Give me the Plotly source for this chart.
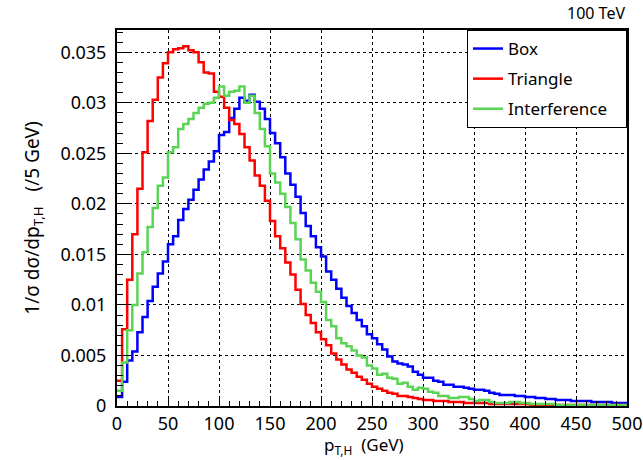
import plotly.graph_objects as go

# Bin edges: 0..500 GeV in 5 GeV bins
bin_width = 5
bin_left = [i * bin_width for i in range(100)]

box = [
    0.0009, 0.0024, 0.0045, 0.0054, 0.0073, 0.0088, 0.0104, 0.0118, 0.0131, 0.0143,
    0.0160, 0.0168, 0.0184, 0.0195, 0.0204, 0.0214, 0.0224, 0.0234, 0.0242, 0.0252,
    0.0268, 0.0271, 0.0285, 0.0294, 0.0305, 0.0302, 0.0308, 0.0301, 0.0294, 0.0284,
    0.0270, 0.0260, 0.0246, 0.0230, 0.0219, 0.0207, 0.0191, 0.0178, 0.0168, 0.0157,
    0.0148, 0.0133, 0.0125, 0.0116, 0.0107, 0.0099, 0.0092, 0.0085, 0.0079, 0.0071,
    0.0067, 0.0061, 0.0056, 0.0049, 0.0044, 0.0042, 0.0041, 0.0039, 0.0034, 0.0031,
    0.0028, 0.0028, 0.0025, 0.0024, 0.0021, 0.0021, 0.0019, 0.0019, 0.0018, 0.0017,
    0.0016, 0.0016, 0.0015, 0.0013, 0.0012, 0.0011, 0.0011, 0.0011, 0.0010, 0.0010,
    0.0009, 0.0009, 0.0008, 0.0008, 0.0007, 0.0007, 0.0006, 0.0006, 0.0006, 0.0005,
    0.0005, 0.0005, 0.0005, 0.0004, 0.0004, 0.0004, 0.0004, 0.0003, 0.0003, 0.0003,
]

triangle = [
    0.0025, 0.0076, 0.0125, 0.0170, 0.0215, 0.0251, 0.0282, 0.0303, 0.0325, 0.0339,
    0.0350, 0.0353, 0.0354, 0.0356, 0.0352, 0.0350, 0.0340, 0.0330, 0.0329, 0.0311,
    0.0306, 0.0295, 0.0283, 0.0279, 0.0269, 0.0256, 0.0243, 0.0228, 0.0218, 0.0203,
    0.0183, 0.0168, 0.0156, 0.0142, 0.0130, 0.0115, 0.0101, 0.0090, 0.0082, 0.0073,
    0.0066, 0.0060, 0.0052, 0.0046, 0.0041, 0.0036, 0.0033, 0.0029, 0.0026, 0.0022,
    0.0019, 0.0017, 0.0015, 0.0013, 0.0012, 0.0010, 0.0010, 0.0009, 0.0008, 0.0007,
    0.0006, 0.0006, 0.0005, 0.0005, 0.0005, 0.0004, 0.0004, 0.0004, 0.0003, 0.0003,
    0.0003, 0.0003, 0.0003, 0.0002, 0.0002, 0.0002, 0.0002, 0.0002, 0.0002, 0.0002,
    0.0002, 0.0001, 0.0001, 0.0001, 0.0001, 0.0001, 0.0001, 0.0001, 0.0001, 0.0001,
    0.0001, 0.0001, 0.0001, 0.0001, 0.0001, 0.0001, 0.0001, 0.0001, 0.0001, 0.0001,
]

interference = [
    0.0015, 0.0043, 0.0075, 0.0100, 0.0131, 0.0152, 0.0177, 0.0196, 0.0218, 0.0226,
    0.0251, 0.0256, 0.0274, 0.0279, 0.0284, 0.0290, 0.0295, 0.0299, 0.0300, 0.0305,
    0.0316, 0.0307, 0.0311, 0.0312, 0.0316, 0.0300, 0.0307, 0.0290, 0.0274, 0.0257,
    0.0230, 0.0221, 0.0210, 0.0197, 0.0181, 0.0165, 0.0145, 0.0134, 0.0122, 0.0113,
    0.0103, 0.0085, 0.0079, 0.0067, 0.0062, 0.0059, 0.0055, 0.0050, 0.0048, 0.0040,
    0.0037, 0.0031, 0.0032, 0.0028, 0.0027, 0.0022, 0.0023, 0.0019, 0.0016, 0.0018,
    0.0017, 0.0014, 0.0013, 0.0010, 0.0010, 0.0008, 0.0008, 0.0009, 0.0009, 0.0007,
    0.0005, 0.0006, 0.0006, 0.0004, 0.0003, 0.0003, 0.0003, 0.0004, 0.0004, 0.0003,
    0.0003, 0.0002, 0.0002, 0.0002, 0.0002, 0.0002, 0.0001, 0.0001, 0.0001, 0.0001,
    0.0001, 0.0001, 0.0001, 0.0001, 0.0001, 0.0001, 0.0001, 0.0001, 0.0001, 0.0001,
]

series = [
    ("Box", box, "#0000ff"),
    ("Triangle", triangle, "#ff0000"),
    ("Interference", interference, "#59d454"),
]

FONT = "Noto Sans"
PAD = "\u00a0\u00a0\u00a0"
fig = go.Figure()
edges = bin_left + [bin_left[-1] + bin_width]
for name, vals, col in series:
    fig.add_trace(go.Scatter(
        x=edges, y=list(vals) + [vals[-1]], mode="lines", name=name + PAD,
        legendgroup=name,
        line=dict(color=col, width=2.5, shape="hv"),
    ))

fig.update_layout(
    width=643, height=460,
    margin=dict(l=117, r=16, t=30, b=54),
    paper_bgcolor="white", plot_bgcolor="white",
    font=dict(family=FONT, size=18, color="black"),
    showlegend=True,
    legend=dict(x=1, y=1, xanchor="right", yanchor="top",
                bgcolor="white", bordercolor="black", borderwidth=1,
                font=dict(size=17), tracegroupgap=5, itemwidth=30),
    annotations=[
        dict(text="100 TeV", x=1, y=1, xref="paper", yref="paper",
             xanchor="right", yanchor="bottom", yshift=4, showarrow=False,
             font=dict(size=16)),
        dict(text="p<sub>T,H</sub>  (GeV)", x=0.484, y=0, xref="paper", yref="paper",
             xanchor="center", yanchor="top", yshift=-25, showarrow=False,
             font=dict(size=17)),
    ],
)
fig.update_xaxes(
    range=[0, 500], dtick=50, tick0=0, automargin=False,
    showline=True, linecolor="black", linewidth=2, mirror=True,
    ticks="inside", ticklen=10, tickwidth=1, tickcolor="black",
    minor=dict(ticks="inside", dtick=10, ticklen=5, tickcolor="black", showgrid=False),
    showgrid=True, gridcolor="black", griddash="dot", gridwidth=1,
    zeroline=False,
)
fig.update_yaxes(
    range=[0, 0.0372], dtick=0.005, tick0=0, automargin=False,
    showline=True, linecolor="black", linewidth=2, mirror=True,
    ticks="inside", ticklen=12, tickwidth=1, tickcolor="black",
    minor=dict(ticks="inside", dtick=0.001, ticklen=6, tickcolor="black", showgrid=False),
    showgrid=True, gridcolor="black", griddash="dot", gridwidth=1,
    zeroline=False, ticklabelstandoff=5,
    title=dict(text="1/σ dσ/dp<sub>T,H</sub>   (/5 GeV)", standoff=16, font=dict(size=19)),
)

fig.write_html("out.html")
